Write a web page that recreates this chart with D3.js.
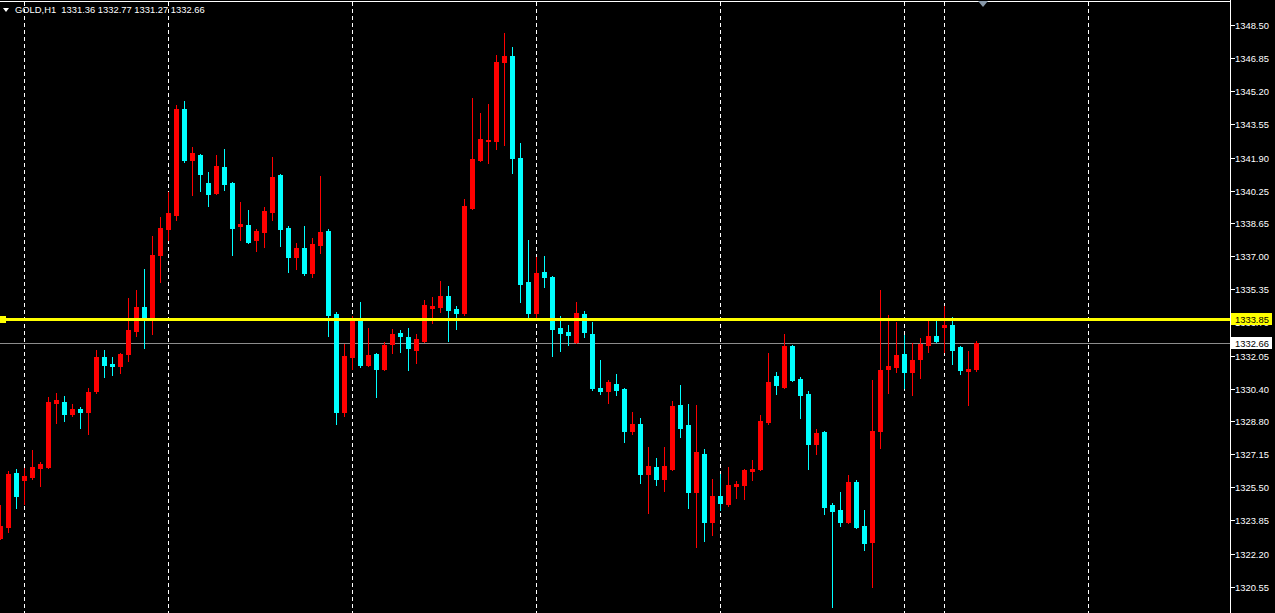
<!DOCTYPE html>
<html><head><meta charset="utf-8">
<script src="https://cdn.jsdelivr.net/npm/d3@7/dist/d3.min.js"></script>
<style>html,body{margin:0;padding:0;background:#000;overflow:hidden}svg{display:block}</style>
</head><body>
<svg id="c" width="1275" height="613"></svg>
<script>
const symbol = "GOLD,H1";
const openP = [1322.97,1323.53,1326.21,1325.86,1326.01,1326.46,1326.52,1329.69,1329.74,1329.16,1329.39,1329.26,1330.30,1331.98,1331.65,1331.55,1332.14,1333.29,1334.47,1333.93,1337.05,1338.35,1339.05,1344.32,1341.78,1342.03,1340.64,1340.14,1341.43,1340.64,1338.50,1338.55,1337.80,1338.20,1339.20,1341.04,1338.40,1336.96,1337.40,1336.16,1337.55,1338.25,1334.12,1329.26,1331.98,1333.82,1331.58,1332.13,1331.38,1332.63,1333.18,1332.98,1332.33,1332.78,1334.42,1334.47,1335.02,1334.37,1334.17,1339.39,1341.78,1342.73,1342.73,1346.66,1346.96,1341.88,1335.71,1334.17,1336.21,1335.96,1333.43,1333.23,1332.73,1334.12,1333.13,1330.44,1330.29,1330.64,1330.39,1328.30,1328.65,1326.16,1326.51,1325.91,1326.41,1329.59,1328.60,1325.26,1327.15,1323.76,1325.06,1324.66,1325.56,1325.61,1326.31,1326.41,1328.75,1331.03,1330.49,1332.53,1330.89,1330.14,1327.65,1328.25,1324.61,1324.36,1323.76,1325.76,1323.57,1322.77,1328.30,1331.38,1331.48,1332.13,1331.23,1331.88,1332.58,1333.03,1333.47,1333.58,1332.48,1331.28,1331.36];
const highP = [1324.61,1326.31,1326.41,1326.47,1327.35,1326.76,1329.99,1330.19,1330.04,1329.64,1329.49,1330.44,1332.33,1332.33,1331.98,1332.18,1334.92,1335.33,1336.36,1338.01,1338.95,1340.19,1344.52,1344.72,1342.43,1342.08,1341.19,1342.03,1342.33,1340.68,1339.69,1339.29,1338.35,1339.44,1341.93,1341.08,1338.50,1337.65,1338.50,1337.90,1340.99,1338.35,1334.22,1332.63,1334.02,1334.72,1333.43,1332.18,1332.73,1333.38,1333.33,1333.43,1333.13,1334.82,1334.97,1335.76,1335.51,1334.52,1339.84,1344.87,1344.12,1344.57,1347.01,1348.10,1347.40,1342.63,1337.80,1336.96,1337.01,1336.01,1334.02,1333.58,1334.72,1334.27,1333.72,1331.83,1330.84,1331.13,1330.44,1329.25,1328.95,1327.50,1326.96,1327.50,1329.79,1330.59,1329.64,1329.59,1327.40,1325.91,1326.16,1326.51,1325.81,1326.40,1326.86,1329.10,1332.18,1331.23,1333.13,1332.58,1330.98,1330.29,1328.40,1328.30,1324.71,1325.26,1326.11,1325.86,1324.36,1330.84,1335.31,1334.07,1333.72,1333.08,1332.68,1332.93,1333.82,1333.77,1334.52,1333.97,1332.52,1332.28,1332.77];
const lowP = [1322.92,1323.28,1324.48,1324.68,1325.91,1325.58,1326.45,1328.70,1328.81,1329.06,1328.46,1328.16,1330.20,1331.00,1331.10,1331.18,1331.80,1333.04,1332.45,1333.14,1335.73,1337.80,1338.81,1341.70,1340.04,1340.24,1339.49,1340.10,1340.29,1337.05,1337.80,1337.66,1337.25,1337.45,1338.80,1337.50,1336.21,1336.36,1336.06,1335.96,1337.15,1333.03,1328.66,1329.06,1331.38,1331.48,1331.53,1329.99,1331.35,1332.18,1332.23,1331.33,1331.68,1332.75,1333.68,1334.22,1332.78,1333.38,1334.07,1339.34,1341.75,1341.63,1342.33,1342.53,1341.14,1334.72,1333.97,1333.97,1335.46,1332.03,1332.28,1332.58,1332.68,1332.98,1330.34,1330.14,1329.69,1330.09,1327.75,1328.15,1325.71,1324.21,1325.61,1325.31,1326.36,1328.00,1324.46,1322.52,1322.82,1323.12,1324.36,1324.56,1324.96,1324.91,1325.86,1326.36,1328.65,1330.14,1330.44,1330.80,1328.95,1326.41,1327.15,1324.16,1319.54,1323.57,1323.72,1323.48,1322.37,1320.54,1327.45,1330.19,1331.23,1330.44,1330.09,1330.93,1332.23,1332.73,1332.23,1331.63,1331.13,1329.59,1331.27];
const closeP = [1323.57,1326.16,1325.08,1326.06,1326.51,1326.66,1329.76,1329.84,1329.16,1329.39,1329.26,1330.24,1331.98,1331.60,1331.55,1332.13,1333.33,1334.47,1333.97,1337.05,1338.40,1339.15,1344.32,1341.78,1342.13,1341.09,1340.09,1341.48,1340.59,1338.40,1338.60,1337.70,1338.25,1339.24,1340.94,1338.35,1336.96,1337.40,1336.16,1337.60,1338.20,1334.07,1329.26,1332.03,1333.82,1331.58,1332.08,1331.38,1332.58,1333.13,1333.03,1332.43,1332.88,1334.57,1334.52,1335.02,1334.32,1334.17,1339.49,1341.83,1342.83,1342.79,1346.66,1346.96,1341.88,1335.61,1334.17,1336.16,1335.96,1333.38,1333.18,1333.08,1334.17,1333.23,1330.44,1330.29,1330.74,1330.34,1328.30,1328.65,1326.16,1326.56,1325.91,1326.56,1329.54,1328.45,1325.26,1327.25,1323.76,1325.06,1324.71,1325.61,1325.66,1326.36,1326.41,1328.80,1330.74,1330.59,1332.53,1330.84,1330.09,1327.65,1328.20,1324.51,1324.31,1323.76,1325.76,1323.52,1322.72,1328.30,1331.33,1331.53,1332.08,1331.23,1331.83,1332.63,1333.03,1332.78,1333.58,1332.33,1331.33,1331.38,1332.66];
const tickLabels = ["1348.50","1346.85","1345.20","1343.55","1341.90","1340.25","1338.65","1337.00","1335.35","1333.70","1332.05","1330.40","1328.80","1327.15","1325.50","1323.85","1322.20","1320.55"];
const gridBars = [3,21,44,67,90,113,118,136];
const hLinePrice = 1333.85;
const bidPrice = 1332.66;

const W = 1275, H = 613, axisX = 1230;
const svg = d3.select("#c");
svg.append("rect").attr("width",W).attr("height",H).attr("fill","#000");

const x = d3.scaleLinear().domain([0,136]).range([0,1088]);
const y = d3.scaleLinear().domain([1320.55,1348.50]).range([586.7,25]);

// vertical dashed grid
svg.append("g").selectAll("line").data(gridBars).join("line")
  .attr("x1",d=>Math.round(x(d))+0.5).attr("x2",d=>Math.round(x(d))+0.5)
  .attr("y1",2).attr("y2",H)
  .attr("stroke","#fff").attr("stroke-width",1).attr("stroke-dasharray","4,3");

// bid line (gray)
svg.append("line").attr("x1",0).attr("x2",axisX).attr("y1",Math.round(y(bidPrice))+0.5).attr("y2",Math.round(y(bidPrice))+0.5)
  .attr("stroke","#8c8c8c").attr("stroke-width",1);

// candles
const idx = d3.range(openP.length);
const g = svg.append("g").attr("shape-rendering","crispEdges");
g.selectAll("line.w").data(idx).join("line").attr("class","w")
  .attr("x1",i=>Math.round(x(i))+0.5).attr("x2",i=>Math.round(x(i))+0.5)
  .attr("y1",i=>Math.round(y(highP[i]))).attr("y2",i=>Math.round(y(lowP[i]))+1)
  .attr("stroke",i=>closeP[i]>=openP[i]?"#ff0000":"#00ffff").attr("stroke-width",1);
g.selectAll("rect.b").data(idx).join("rect").attr("class","b")
  .attr("x",i=>Math.round(x(i))-2).attr("width",5)
  .attr("y",i=>Math.round(y(Math.max(openP[i],closeP[i]))))
  .attr("height",i=>Math.max(2,Math.round(y(Math.min(openP[i],closeP[i])))-Math.round(y(Math.max(openP[i],closeP[i])))+1))
  .attr("fill",i=>closeP[i]>=openP[i]?"#ff0000":"#00ffff");

// horizontal yellow line
const yl = Math.round(y(hLinePrice));
svg.append("rect").attr("x",0).attr("y",yl-1).attr("width",axisX).attr("height",3).attr("fill","#ffff00");
svg.append("rect").attr("x",0).attr("y",yl-3).attr("width",6).attr("height",7).attr("fill","#ffff00");

// top border & axis line
svg.append("line").attr("x1",0).attr("x2",axisX).attr("y1",1.5).attr("y2",1.5).attr("stroke","#fff");
svg.append("line").attr("x1",axisX+0.5).attr("x2",axisX+0.5).attr("y1",0).attr("y2",H).attr("stroke","#fff");

// axis ticks and labels
const font = "'Liberation Sans', Arial, sans-serif";
const ax = svg.append("g");
tickLabels.forEach(t=>{
  const ty = Math.round(y(+t));
  ax.append("line").attr("x1",axisX+1).attr("x2",axisX+5).attr("y1",ty+0.5).attr("y2",ty+0.5).attr("stroke","#fff");
  ax.append("text").attr("x",1235).attr("y",ty+3.6).attr("fill","#fff")
    .attr("font-family",font).attr("font-size","9.4px").text(t);
});

// yellow price label
svg.append("rect").attr("x",1231).attr("y",yl-6).attr("width",41).attr("height",12).attr("fill","#ffff00");
svg.append("text").attr("x",1235).attr("y",yl+3.6).attr("fill","#000").attr("font-family",font).attr("font-size","9.4px").text(d3.format(".2f")(hLinePrice));

// bid label
const yb = Math.round(y(bidPrice));
svg.append("rect").attr("x",1231).attr("y",yb-6).attr("width",41).attr("height",12).attr("fill","#fff");
svg.append("text").attr("x",1235).attr("y",yb+3.6).attr("fill","#000").attr("font-family",font).attr("font-size","9.4px").text(d3.format(".2f")(bidPrice));

// title
svg.append("path").attr("d","M3,8 L9,8 L6,12 Z").attr("fill","#fff");
const last = openP.length-1;
svg.append("text").attr("x",15).attr("y",13).attr("fill","#fff").attr("font-family",font).attr("font-size","9.4px")
  .attr("xml:space","preserve")
  .text(symbol+"  "+[openP[last],highP[last],lowP[last],closeP[last]].map(d3.format(".2f")).join(" "));

// small gray marker at top
svg.append("path").attr("d","M978,1 L988,1 L983,7 Z").attr("fill","#8797a8");
</script>
</body></html>
